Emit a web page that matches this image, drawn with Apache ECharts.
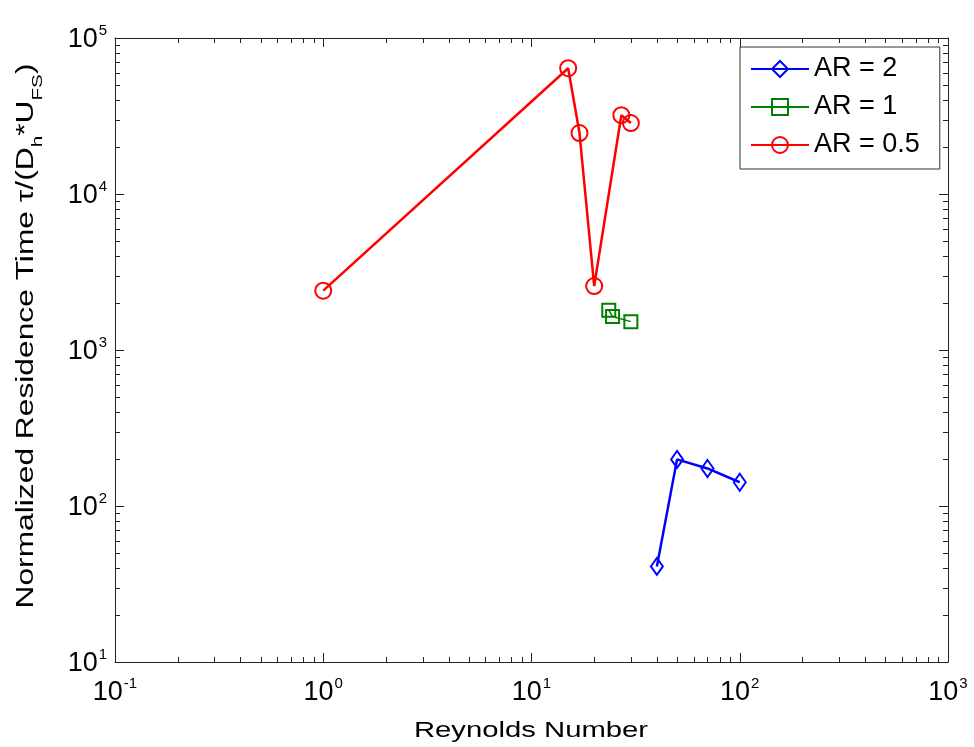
<!DOCTYPE html>
<html>
<head>
<meta charset="utf-8">
<title>Normalized Residence Time vs Reynolds Number</title>
<script src="https://cdn.jsdelivr.net/npm/echarts@6/dist/echarts.min.js"></script>
<style>
  html, body { margin: 0; padding: 0; background: #fff; }
  #chart { width: 974px; height: 747px; }
</style>
</head>
<body>
<div id="chart"></div>
<script>
// Reynolds number and normalized residence time for three aspect ratios
var reAR2 = [40, 50, 70, 100];
var tauAR2 = [41, 199, 174, 142];

var reAR1 = [23.5, 24.5, 30];
var tauAR1 = [1800, 1640, 1520];

var reAR05 = [1, 15, 17, 20, 27, 30];
var tauAR05 = [2400, 64000, 24600, 2570, 32000, 28500];

var seriesNames = ['AR = 2', 'AR = 1', 'AR = 0.5'];

// decade exponents shown as 10^n tick labels
var xTickExponents = [-1, 0, 1, 2, 3];
var yTickExponents = [1, 2, 3, 4, 5];
// minor log ticks sit at these multiples of each decade
var minorMultiples = [2, 3, 4, 5, 6, 7, 8, 9];

var X_MIN = 0.1, X_MAX = 1000, Y_MIN = 10, Y_MAX = 100000;
var MINOR_LEN = 5;

var FONT = "'Liberation Sans', Arial, Helvetica, sans-serif";
var AXIS_COLOR = '#222';

function pairs(xs, ys) {
  return xs.map(function (x, i) { return [x, ys[i]]; });
}

function minorValues(exps) {
  var out = [];
  for (var i = 0; i < exps.length - 1; i++) {
    var base = Math.pow(10, exps[i]);
    minorMultiples.forEach(function (m) { out.push(+(m * base).toPrecision(6)); });
  }
  return out;
}

function powerLabel(exps) {
  return function (value) {
    var e = Math.round(Math.log(value) / Math.LN10);
    if (exps.indexOf(e) < 0) return '';
    return '{b|10}{s|' + e + '}';
  };
}

var labelRich = {
  b: { fontFamily: FONT, fontSize: 27, color: '#000', lineHeight: 30, verticalAlign: 'bottom' },
  s: { fontFamily: FONT, fontSize: 15, color: '#000', lineHeight: 30, verticalAlign: 'top', padding: [0, 0, 0, 1] }
};

function logAxis(position, min, max, exps, showLabel, margin) {
  return {
    type: 'log',
    logBase: 10,
    position: position,
    min: min,
    max: max,
    splitNumber: 4,
    axisLine: { show: true, onZero: false, lineStyle: { color: AXIS_COLOR, width: 1 } },
    axisTick: { show: true, inside: true, length: 9, lineStyle: { color: AXIS_COLOR, width: 1 } },
    minorTick: { show: false },
    splitLine: { show: false },
    minorSplitLine: { show: false },
    axisLabel: {
      show: showLabel,
      margin: margin,
      formatter: powerLabel(exps),
      rich: labelRich
    }
  };
}

var tickStyle = { stroke: AXIS_COLOR, lineWidth: 1 };

// minor ticks on the bottom and top edges, placed through the x scale
function renderXMinor(params, api) {
  var v = api.value(0);
  var b = api.coord([v, Y_MIN]);
  var t = api.coord([v, Y_MAX]);
  var x = Math.round(b[0]) + 0.5;
  return {
    type: 'group',
    children: [
      { type: 'line', shape: { x1: x, y1: b[1], x2: x, y2: b[1] - MINOR_LEN }, style: tickStyle },
      { type: 'line', shape: { x1: x, y1: t[1], x2: x, y2: t[1] + MINOR_LEN }, style: tickStyle }
    ]
  };
}

// minor ticks on the left and right edges, placed through the y scale
function renderYMinor(params, api) {
  var v = api.value(1);
  var l = api.coord([X_MIN, v]);
  var r = api.coord([X_MAX, v]);
  var y = Math.round(l[1]) + 0.5;
  return {
    type: 'group',
    children: [
      { type: 'line', shape: { x1: l[0], y1: y, x2: l[0] + MINOR_LEN, y2: y }, style: tickStyle },
      { type: 'line', shape: { x1: r[0], y1: y, x2: r[0] - MINOR_LEN, y2: y }, style: tickStyle }
    ]
  };
}

var chart = echarts.init(document.getElementById('chart'), null, { renderer: 'canvas' });

var option = {
  animation: false,
  backgroundColor: '#fff',
  textStyle: { fontFamily: FONT },
  grid: { left: 115, right: 26, top: 38, bottom: 85, containLabel: false },
  xAxis: [
    logAxis('bottom', X_MIN, X_MAX, xTickExponents, true, 14),
    logAxis('top', X_MIN, X_MAX, xTickExponents, false, 8)
  ],
  yAxis: [
    logAxis('left', Y_MIN, Y_MAX, yTickExponents, true, 8),
    logAxis('right', Y_MIN, Y_MAX, yTickExponents, false, 8)
  ],
  legend: {
    data: seriesNames,
    orient: 'vertical',
    left: 740,
    top: 47,
    padding: [7, 20, 9, 10],
    itemWidth: 58,
    itemHeight: 20,
    itemGap: 8,
    backgroundColor: '#fff',
    borderColor: '#333',
    borderWidth: 1,
    borderRadius: 0,
    selectedMode: false,
    textStyle: { fontFamily: FONT, fontSize: 27, lineHeight: 30, color: '#000' }
  },
  graphic: [
    {
      type: 'text',
      x: 531,
      y: 731,
      scaleX: 1.33,
      silent: true,
      style: {
        text: 'Reynolds Number',
        font: '22px ' + FONT,
        fill: '#000',
        textAlign: 'center',
        textVerticalAlign: 'middle'
      }
    },
    {
      type: 'text',
      x: 30,
      y: 336,
      rotation: Math.PI / 2,
      scaleX: 1.38,
      silent: true,
      style: {
        text: '{t|Normalized Residence Time \u03C4/(D}{sub|h}{t|*U}{sub|FS}{t|)}',
        textAlign: 'center',
        textVerticalAlign: 'middle',
        rich: {
          t: { fontFamily: FONT, fontSize: 23, fill: '#000', lineHeight: 30, verticalAlign: 'top' },
          sub: { fontFamily: FONT, fontSize: 15, fill: '#000', lineHeight: 30, verticalAlign: 'bottom' }
        }
      }
    }
  ],
  series: [
    {
      name: seriesNames[0],
      type: 'line',
      data: pairs(reAR2, tauAR2),
      symbol: 'diamond',
      symbolSize: [12, 17],
      lineStyle: { color: '#0000ff', width: 2.5 },
      itemStyle: { color: 'rgba(0,0,0,0)', borderColor: '#0000ff', borderWidth: 2 },
      emphasis: { disabled: true },
      silent: true,
      z: 3
    },
    {
      name: seriesNames[1],
      type: 'line',
      data: pairs(reAR1, tauAR1),
      symbol: 'rect',
      symbolSize: 13,
      lineStyle: { color: '#008000', width: 1.5 },
      itemStyle: { color: 'rgba(0,0,0,0)', borderColor: '#008000', borderWidth: 2 },
      emphasis: { disabled: true },
      silent: true,
      z: 3
    },
    {
      name: seriesNames[2],
      type: 'line',
      data: pairs(reAR05, tauAR05),
      symbol: 'circle',
      symbolSize: 16,
      lineStyle: { color: '#ff0000', width: 2.5 },
      itemStyle: { color: 'rgba(0,0,0,0)', borderColor: '#ff0000', borderWidth: 2 },
      emphasis: { disabled: true },
      silent: true,
      z: 3
    },
    {
      name: 'xMinorTicks',
      type: 'custom',
      data: minorValues(xTickExponents).map(function (v) { return [v, Y_MIN]; }),
      renderItem: renderXMinor,
      silent: true,
      clip: false,
      z: 1
    },
    {
      name: 'yMinorTicks',
      type: 'custom',
      data: minorValues(yTickExponents).map(function (v) { return [X_MIN, v]; }),
      renderItem: renderYMinor,
      silent: true,
      clip: false,
      z: 1
    }
  ]
};

chart.setOption(option);
</script>
</body>
</html>
